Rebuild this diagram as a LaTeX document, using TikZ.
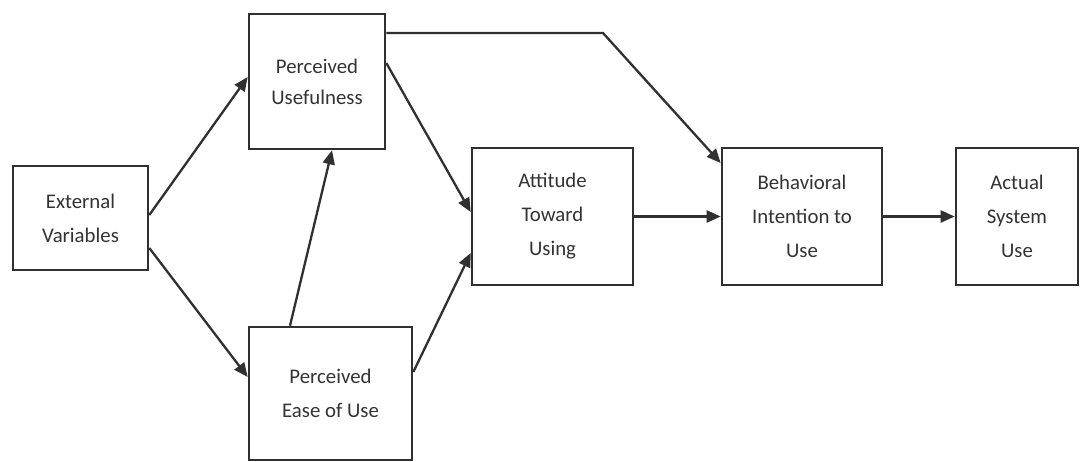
\documentclass[tikz,border=0pt]{standalone}
\usepackage{fontspec}
\setmainfont{Carlito}
\usetikzlibrary{arrows.meta,calc}
\definecolor{ink}{HTML}{303030}
\definecolor{txt}{HTML}{333333}
\tikzset{
  box/.style={draw=ink, line width=2.6pt, rectangle, align=center, inner sep=0pt,
    text=txt, font=\fontsize{20.8}{34}\selectfont},
  conn/.style={draw=ink, line width=2.3pt, -{Triangle[length=14pt,width=12pt]}},
}
\begin{document}
\begin{tikzpicture}[x=1pt,y=-1pt]
\useasboundingbox[fill=white] (0,0) rectangle (1083,461);
\node[box, minimum width=135pt, minimum height=104pt] (ev) at (80.5,218) {External\\Variables};
\node[box, minimum width=136pt, minimum height=135pt] (pu) at (317,81.5) {Perceived\\[-3pt]Usefulness};
\node[box, minimum width=163pt, minimum height=133pt] (peou) at (330.5,393.5) {Perceived\\Ease of Use};
\node[box, minimum width=161pt, minimum height=137pt] (atu) at (552.5,216.5) {Attitude\\Toward\\Using};
\node[box, minimum width=160pt, minimum height=137pt] (bi) at (802,216.5) {Behavioral\\Intention to\\Use};
\node[box, minimum width=122pt, minimum height=137pt] (asu) at (1017,216.5) {Actual\\System\\Use};
\coordinate (bend) at (603,33);

\draw[conn] ([yshift=3pt]ev.east) -- ([yshift=4.5pt]pu.west);
\draw[conn] ([yshift=-30pt]ev.east) -- ([yshift=16.5pt]peou.west);
\draw[conn] ([xshift=-40.5pt]peou.north) -- ([xshift=15pt]pu.south);
\draw[conn] ([yshift=18.5pt]pu.east) -- ([yshift=4.5pt]atu.west);
\draw[conn] ([yshift=21.5pt]peou.east) -- ([yshift=-36.5pt]atu.west);
\draw[conn] ([yshift=48.5pt]pu.east) -- (bend) -- ([yshift=53.5pt]bi.west);
\draw[conn] (atu.east) -- (bi.west);
\draw[conn] (bi.east) -- (asu.west);
\end{tikzpicture}
\end{document}
